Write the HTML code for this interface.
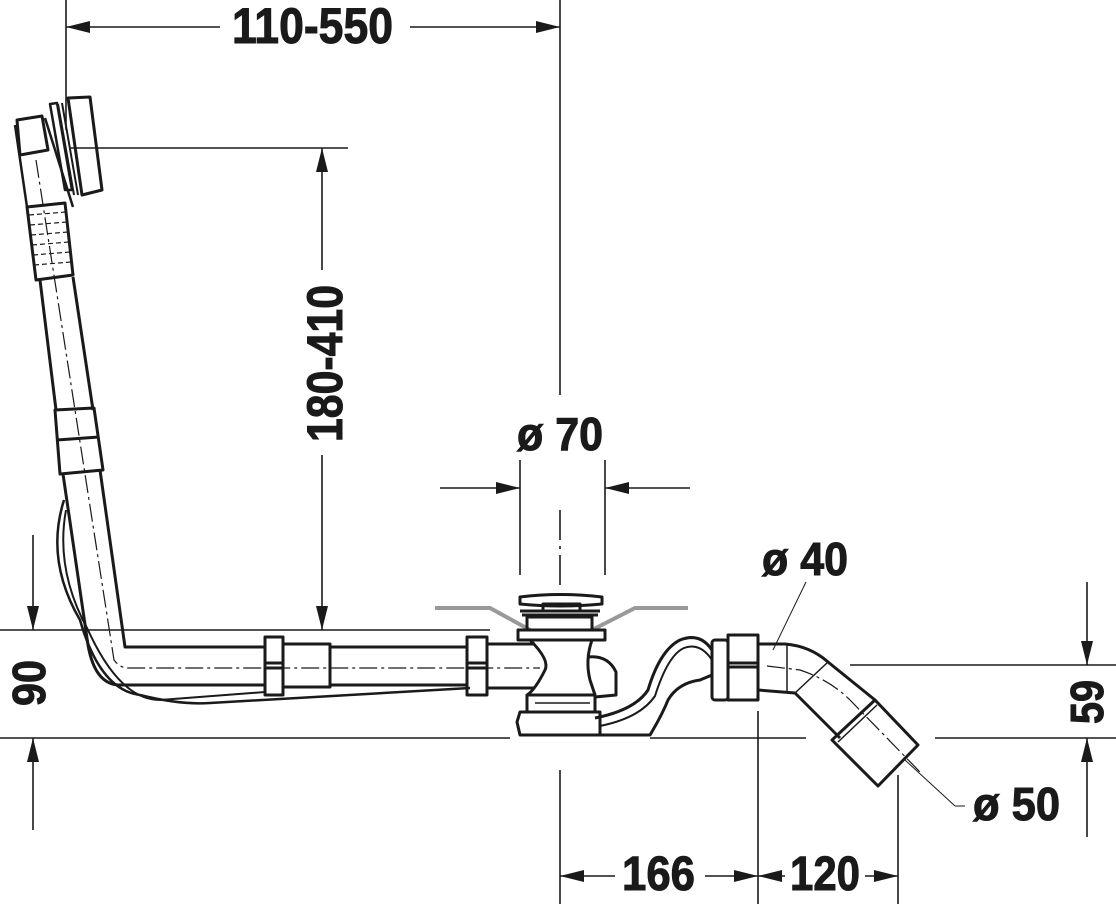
<!DOCTYPE html>
<html><head><meta charset="utf-8"><style>
html,body{margin:0;padding:0;background:#fff;}
svg{display:block;}
text{font-family:"Liberation Sans Narrow","Liberation Sans",sans-serif;font-weight:bold;fill:#1a1a1a;stroke:#1a1a1a;stroke-width:1;}
</style></head><body>
<svg width="1116" height="904" viewBox="0 0 1116 904" xmlns="http://www.w3.org/2000/svg">
<defs>
<marker id="a" viewBox="0 0 24 12" refX="24" refY="6" markerWidth="24" markerHeight="12" markerUnits="userSpaceOnUse" orient="auto">
<path d="M0,0 L24,6 L0,12 Z" fill="#1a1a1a"/></marker>
</defs>
<g stroke="#1a1a1a" fill="none" stroke-width="1.6">
<line x1="66" y1="0" x2="66" y2="130"/>
<line x1="560" y1="0" x2="560" y2="395"/>
<line x1="70" y1="148" x2="348" y2="148"/>
<line x1="0" y1="630" x2="490" y2="630"/>
<line x1="0" y1="738" x2="510" y2="738"/>
<line x1="650" y1="738" x2="806" y2="738"/>
<line x1="935" y1="738" x2="1116" y2="738"/>
<line x1="850" y1="665" x2="1116" y2="665"/>
<line x1="520" y1="460" x2="520" y2="575"/>
<line x1="605" y1="460" x2="605" y2="575"/>
<line x1="560" y1="510" x2="560" y2="590" stroke-dasharray="30,6,3,6"/>
<line x1="560" y1="770" x2="560" y2="904"/>
<line x1="758" y1="711" x2="758" y2="904"/>
<line x1="898" y1="775" x2="898" y2="904"/>
<line x1="220" y1="27" x2="66" y2="27" marker-end="url(#a)"/>
<line x1="410" y1="27" x2="560" y2="27" marker-end="url(#a)"/>
<line x1="322" y1="270" x2="322" y2="148" marker-end="url(#a)"/>
<line x1="322" y1="455" x2="322" y2="630" marker-end="url(#a)"/>
<line x1="440" y1="488" x2="520" y2="488" marker-end="url(#a)"/>
<line x1="690" y1="488" x2="605" y2="488" marker-end="url(#a)"/>
<line x1="33" y1="535" x2="33" y2="630" marker-end="url(#a)"/>
<line x1="33" y1="830" x2="33" y2="738" marker-end="url(#a)"/>
<line x1="1087" y1="582" x2="1087" y2="665" marker-end="url(#a)"/>
<line x1="1087" y1="837" x2="1087" y2="738" marker-end="url(#a)"/>
<line x1="615" y1="876" x2="560" y2="876" marker-end="url(#a)"/>
<line x1="705" y1="876" x2="758" y2="876" marker-end="url(#a)"/>
<line x1="785" y1="876" x2="758" y2="876" marker-end="url(#a)"/>
<line x1="865" y1="876" x2="898" y2="876" marker-end="url(#a)"/>
<line x1="806" y1="582" x2="773" y2="650" stroke-width="1"/>
<line x1="905" y1="760" x2="955" y2="806" stroke-width="1"/>
<line x1="955" y1="806" x2="965" y2="806" stroke-width="1"/>
</g>
<g stroke="#999" stroke-width="4" fill="none">
<polyline points="435,608 490,608 530,630"/>
<polyline points="592,630 635,608 688,608"/>
</g>
<g stroke="#1a1a1a" fill="none" stroke-width="3" stroke-linejoin="round">
<path d="M17,120 L42,116 L48,150 L20,155 Z"/>
<path d="M15,125 L27,207 M45,118 L73,207" stroke-width="2.5"/>
<path d="M50,104 L57,103 L72,190 L65,190 Z" stroke-width="2.5"/>
<path d="M68,98 L90,97 L102,190 L82,195 Z"/>
<path d="M62,103 L78,195 M58,104 L74,195" stroke-width="2"/>
<path d="M27,207 L65,203 L73,275 L36,280 Z"/>
<g stroke-width="1.2" stroke-dasharray="5,3">
<line x1="29" y1="215" x2="66" y2="212"/><line x1="30" y1="225" x2="67" y2="222"/>
<line x1="31" y1="235" x2="68" y2="232"/><line x1="32" y1="245" x2="69" y2="242"/>
<line x1="33" y1="255" x2="70" y2="252"/><line x1="34" y1="265" x2="71" y2="262"/>
</g>
<path d="M40,280 L56,410 M73,277 L93,410"/>
<path d="M55,410 L94,408 L103,470 L60,474 Z"/>
<line x1="57" y1="440" x2="99" y2="437"/>
<path d="M63,474 L88,645 Q95,685 120,685 L265,685"/>
<path d="M100,470 L125,647 L265,647"/>
<path d="M36,160 L114,660 Q120,668 128,668 L540,668" stroke-width="1.2" stroke-dasharray="18,4,3,4"/>
<path d="M64,500 Q45,560 80,620 Q100,690 140,695 Q180,705 210,703 L470,688" stroke-width="2.5"/>
<path d="M66,510 Q55,570 88,630 Q120,700 160,700 L265,692" stroke-width="2"/>
<rect x="265" y="637" width="18" height="58"/>
<line x1="265" y1="663" x2="283" y2="663"/><line x1="265" y1="668" x2="283" y2="668"/>
<rect x="283" y="644" width="47" height="43"/>
<line x1="330" y1="647" x2="467" y2="647"/><line x1="330" y1="685" x2="467" y2="685"/>
<rect x="467" y="637" width="20" height="58"/>
<line x1="467" y1="663" x2="487" y2="663"/><line x1="467" y1="668" x2="487" y2="668"/>
<line x1="487" y1="644" x2="535" y2="644"/><line x1="487" y1="688" x2="535" y2="688"/>
<path d="M520,597 Q560,592 602,597 L602,604 Q560,608 520,604 Z"/>
<rect x="543" y="604" width="37" height="7"/>
<path d="M520,611 L600,611 M522,615 L598,615"/>
<rect x="527" y="617" width="65" height="13"/>
<rect x="518" y="630" width="87" height="10"/>
<path d="M530,640 Q550,660 545,670 Q535,690 527,695 L595,695 L590,680 Q585,660 592,640"/>
<path d="M588,657 Q608,655 616,672 L616,695 L595,697"/>
<path d="M527,695 L527,712 L595,712 L595,695"/>
<path d="M520,712 L600,712 L600,735 L520,735 L517,722 Z"/>
<path d="M535,703 L590,703" stroke-width="1.5"/>
<path d="M595,718 Q635,710 648,690 Q660,650 680,640 Q700,632 712,650"/>
<path d="M600,726 Q640,718 655,696 Q668,655 684,648 Q700,642 712,660" stroke-width="2"/>
<path d="M600,735 L650,735 Q662,715 668,700 Q678,683 700,680 L712,675"/>
<rect x="712" y="640" width="16" height="60" rx="3"/>
<rect x="728" y="635" width="30" height="65"/>
<line x1="728" y1="663" x2="758" y2="663"/><line x1="728" y1="667" x2="758" y2="667"/>
<path d="M758,644 L785,644 Q810,646 828,662 L875,700"/>
<path d="M758,690 L795,693 L840,738"/>
<line x1="787" y1="644" x2="787" y2="693" stroke-width="1.5"/>
<line x1="828" y1="662" x2="795" y2="693" stroke-width="1.5"/>
<path d="M832,740 L875,700 L918,745 L878,786 Z"/>
<path d="M838,742 L877,705" stroke-width="1.5"/>
<path d="M767,666 L800,670 Q830,680 850,700 L920,772" stroke-width="1.2" stroke-dasharray="18,4,3,4"/>
</g>
<text x="232" y="43" font-size="50" textLength="161" lengthAdjust="spacingAndGlyphs">110-550</text>
<text transform="translate(342,442) rotate(-90)" font-size="50" textLength="157" lengthAdjust="spacingAndGlyphs">180-410</text>
<text x="517" y="450" font-size="46" textLength="86" lengthAdjust="spacingAndGlyphs">ø 70</text>
<text x="762" y="575" font-size="46" textLength="86" lengthAdjust="spacingAndGlyphs">ø 40</text>
<text transform="translate(45,706) rotate(-90)" font-size="46" textLength="46" lengthAdjust="spacingAndGlyphs">90</text>
<text transform="translate(1103,724) rotate(-90)" font-size="46" textLength="44" lengthAdjust="spacingAndGlyphs">59</text>
<text x="973" y="820" font-size="46" textLength="87" lengthAdjust="spacingAndGlyphs">ø 50</text>
<text x="622" y="890" font-size="48" textLength="73" lengthAdjust="spacingAndGlyphs">166</text>
<text x="790" y="890" font-size="48" textLength="70" lengthAdjust="spacingAndGlyphs">120</text>
</svg>
</body></html>
